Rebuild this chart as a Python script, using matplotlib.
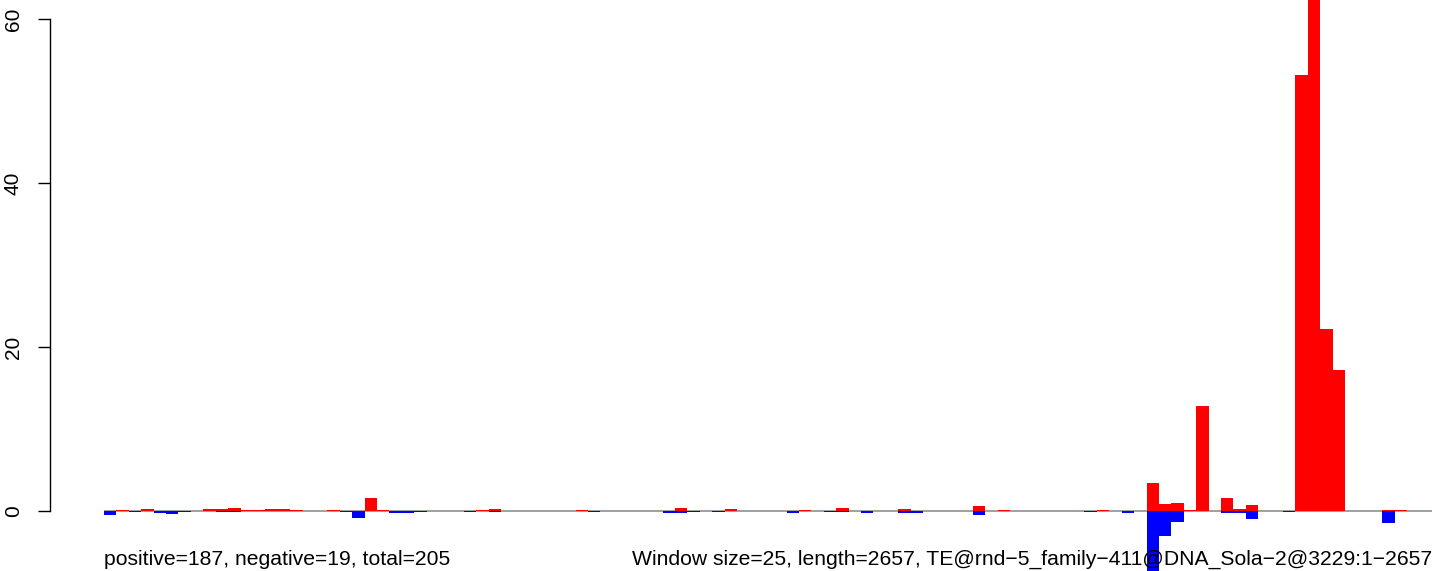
import numpy as np
import matplotlib.pyplot as plt

# per-window coverage, 25 bp windows over 2657 bp (107 windows)
pos = [0, 0.1, 0, 0.2, 0, 0, 0, 0, 0.2, 0.2,
       0.35, 0.1, 0.1, 0.2, 0.3, 0.1, 0, 0, 0.15, 0,
       0, 1.6, 0.1, 0, 0, 0, 0, 0, 0, 0,
       0.1, 0.2, 0, 0, 0, 0, 0, 0, 0.15, 0,
       0, 0, 0, 0, 0, 0, 0.35, 0, 0, 0,
       0.2, 0, 0, 0, 0, 0, 0.1, 0, 0, 0.35,
       0, 0, 0, 0, 0.2, 0, 0, 0, 0, 0,
       0.6, 0, 0.1, 0, 0, 0, 0, 0, 0, 0,
       0.15, 0, 0, 0, 3.4, 0.9, 1.0, 0.1, 12.8, 0,
       1.6, 0.25, 0.75, 0, 0, 0, 53.2, 67, 22.2, 17.2,
       0, 0, 0, 0.1, 0.1, 0, 0]
neg = [-0.5, 0, -0.1, 0, -0.25, -0.35, -0.1, 0, 0, -0.1,
       -0.1, 0, 0, 0, 0, 0, 0, 0, 0, -0.1,
       -0.8, 0, 0, -0.3, -0.2, -0.1, 0, 0, 0, -0.1,
       0, -0.1, 0, 0, 0, 0, 0, 0, 0, -0.1,
       0, 0, 0, 0, 0, -0.2, -0.2, -0.1, 0, -0.1,
       0, 0, 0, 0, 0, -0.2, 0, 0, -0.1, -0.1,
       0, -0.2, 0, 0, -0.3, -0.2, 0, 0, 0, 0,
       -0.5, 0, 0, 0, 0, 0, 0, 0, 0, -0.1,
       0, 0, -0.2, 0, -9, -3.0, -1.3, 0, 0, 0,
       -0.2, -0.2, -0.95, 0, 0, -0.1, 0, 0, 0, 0,
       0, 0, 0, -1.5, 0, 0, 0]
yticks = [0, 20, 40, 60]
left_txt = "positive=187, negative=19, total=205"
right_txt = "Window size=25, length=2657, TE@rnd\u22125_family\u2212411@DNA_Sola\u22122@3229:1\u22122657"

plt.rcParams['font.family'] = ['Liberation Sans', 'DejaVu Sans']

n = len(pos)
x = np.arange(n)

fig = plt.figure(figsize=(14.44, 5.71), dpi=100)
ax = fig.add_axes([104/1444, 0, 1328/1444, 1])

ax.axhline(0, color='#999999', lw=1.3, zorder=1)
ax.bar(x, pos, width=1, align='edge', color='red', lw=0, zorder=2)
ax.bar(x, neg, width=1, align='edge', color='blue', lw=0, zorder=2)

ax.set_xlim(0, n)
ax.set_ylim(-60/8.2, 511/8.2)

for s in ['top', 'right', 'bottom']:
    ax.spines[s].set_visible(False)
ax.spines['left'].set_position(('axes', -54/1328))
ax.spines['left'].set_bounds(0, 60)
ax.spines['left'].set_linewidth(1)
ax.set_xticks([])
ax.set_yticks(yticks)
ax.set_yticklabels([str(v) for v in yticks], rotation=90, va='center')
ax.tick_params(axis='y', length=8.6, width=1, pad=11, labelsize=15)

ax.text(0, -6.6, left_txt, fontsize=15.2, ha='left', va='baseline', zorder=5, clip_on=False)
ax.text(n, -6.6, right_txt, fontsize=15.2, ha='right', va='baseline', zorder=5, clip_on=False)

fig.savefig('out.png', dpi=100)
